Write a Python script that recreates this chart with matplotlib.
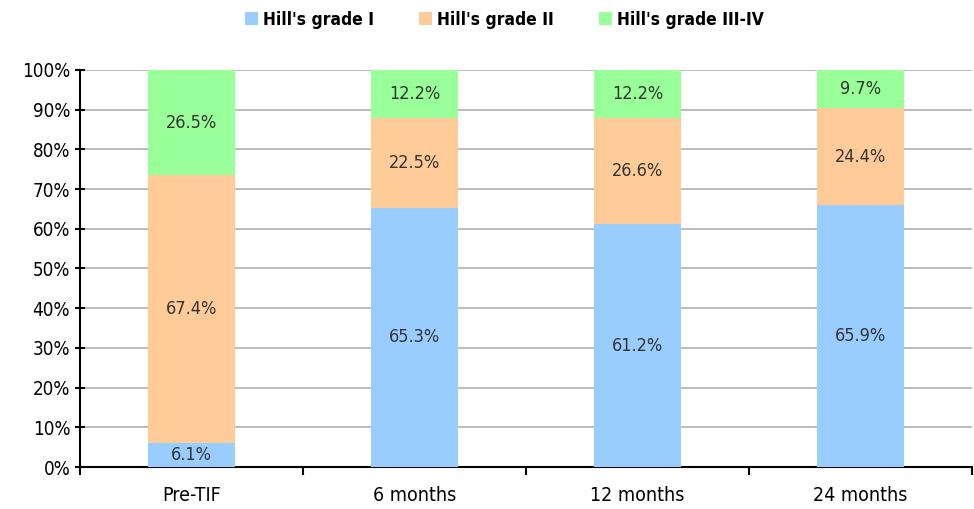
import matplotlib.pyplot as plt
import numpy as np
from matplotlib.ticker import FuncFormatter

plt.rcParams['font.family'] = ['DejaVu Sans']
plt.rcParams['font.stretch'] = 'condensed'

categories = ['Pre-TIF', '6 months', '12 months', '24 months']
grade_1 = [6.1, 65.3, 61.2, 65.9]
grade_2 = [67.4, 22.5, 26.6, 24.4]
grade_3_4 = [26.5, 12.2, 12.2, 9.7]
series_names = ["Hill's grade I", "Hill's grade II", "Hill's grade III-IV"]
colors = ['#99CCFF', '#FFCC99', '#99FF99']

fig = plt.figure(figsize=(9.74, 5.09), dpi=100, facecolor='white')
ax = fig.add_axes([0.082, 0.0825, 0.916, 0.78])

x = np.arange(len(categories))
bottom = np.zeros(len(categories))
for vals, name, col in zip([grade_1, grade_2, grade_3_4], series_names, colors):
    vals = np.array(vals)
    ax.bar(x, vals, 0.39, bottom=bottom, color=col, label=name, zorder=3)
    for xi, b, v in zip(x, bottom, vals):
        ax.text(xi, b + v / 2, f'{v:.1f}%', ha='center', va='center',
                fontsize=13, color='#333333', zorder=4)
    bottom += vals

ax.set_xlim(-0.5, len(categories) - 0.5)
ax.set_ylim(0, 100)
ax.set_yticks(np.arange(0, 101, 10))
ax.yaxis.set_major_formatter(FuncFormatter(lambda v, p: f'{v:.0f}%'))
ax.grid(axis='y', color='#b0b0b0', linewidth=1.2, zorder=0)

# category labels at the centers, tick marks on the boundaries
ax.set_xticks(x)
ax.set_xticklabels(categories, fontsize=14, fontweight='medium')
ax.tick_params(axis='x', which='major', length=0, pad=14)
ax.set_xticks(np.arange(-0.5, len(categories)), minor=True)
ax.tick_params(axis='x', which='minor', length=6, width=1.5, direction='out')
ax.tick_params(axis='y', labelsize=13.5, length=7, width=1.5, direction='inout')

for s in ['top', 'right']:
    ax.spines[s].set_visible(False)
for s in ['left', 'bottom']:
    ax.spines[s].set_linewidth(1.5)

fig.legend(loc='upper center', bbox_to_anchor=(0.518, 1.01), ncol=3, frameon=False,
           handlelength=0.75, handleheight=0.75, handletextpad=0.3,
           columnspacing=2.6, prop={'size': 12.5, 'weight': 'semibold', 'stretch': 'condensed'})

fig.savefig('out.png', dpi=100)
